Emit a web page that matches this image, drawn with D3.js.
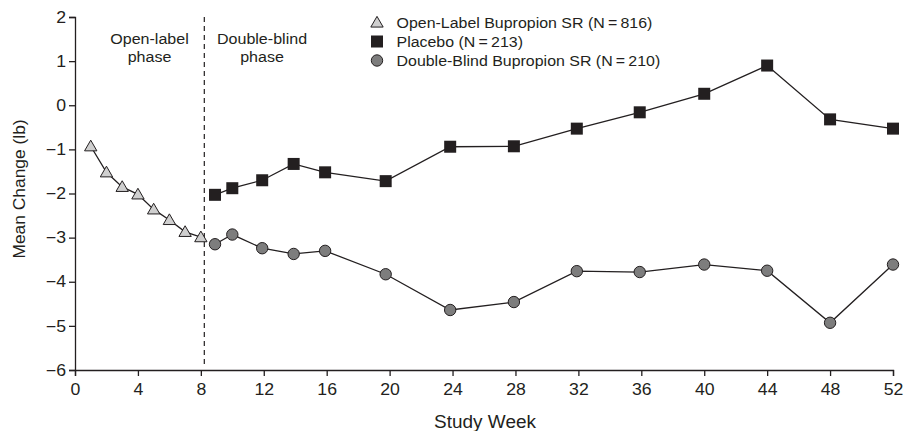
<!DOCTYPE html>
<html><head><meta charset="utf-8">
<script src="https://cdn.jsdelivr.net/npm/d3@7"></script>
<style>body{margin:0;background:#fff}svg{display:block}text{font-family:"Liberation Sans",Arial,sans-serif;fill:#231f20}</style>
</head><body><svg id="c" width="905" height="431"></svg>
<script>
const openWeeks = [1,2,3,4,5,6,7,8];
const openValues = [-0.93,-1.52,-1.85,-2.02,-2.36,-2.60,-2.87,-2.99];
const dbWeeks = [8.9,10,11.9,13.9,15.9,19.75,23.85,27.9,31.9,35.9,40,44,48,52];
const placeboValues = [-2.03,-1.88,-1.70,-1.33,-1.52,-1.72,-0.94,-0.93,-0.53,-0.16,0.26,0.90,-0.32,-0.53];
const bupValues = [-3.15,-2.93,-3.24,-3.37,-3.30,-3.83,-4.64,-4.46,-3.76,-3.78,-3.61,-3.75,-4.93,-3.61];
const xTicks = [0,4,8,12,16,20,24,28,32,36,40,44,48,52];
const yTicks = [2,1,0,-1,-2,-3,-4,-5,-6];
const phaseBoundary = 8.22;
const legendLabels = ["Open-Label Bupropion SR (N\u2009=\u2009816)","Placebo (N\u2009=\u2009213)","Double-Blind Bupropion SR (N\u2009=\u2009210)"];

const SX = 1.085; // horizontal stretch of the original typesetting
const svg = d3.select("#c");
const x = d3.scaleLinear().domain([0,52]).range([75,893]);
const y = d3.scaleLinear().domain([-6,2]).range([370,17]);
const ink = "#231f20";

function label(g, tx, ty, txt, size, anchor){
  return g.append("text").attr("transform",`translate(${tx},${ty}) scale(${SX},1)`)
    .attr("text-anchor",anchor||"start").attr("font-size",size).text(txt);
}

const gx = svg.append("g").attr("transform","translate(0,370)")
  .call(d3.axisBottom(x).tickValues(xTicks).tickSize(6).tickPadding(7).tickFormat(d3.format("d")));
const gy = svg.append("g").attr("transform","translate(75,0)")
  .call(d3.axisLeft(y).tickValues(yTicks).tickSize(6).tickPadding(3).tickFormat(d=>d<0?"\u2212"+Math.abs(d):d));
[gx,gy].forEach(g=>{
  g.selectAll("path").attr("stroke",ink).attr("stroke-width",1.3);
  g.selectAll("line").attr("stroke",ink).attr("stroke-width",1.3);
  g.selectAll("text").attr("font-size",16.3).attr("fill",ink).style("font-family","'Liberation Sans',Arial,sans-serif")
    .attr("transform",`scale(${SX},1)`);
});
gy.selectAll("text").attr("x",-9/SX);

// phase divider
svg.append("line").attr("x1",x(phaseBoundary)).attr("x2",x(phaseBoundary))
  .attr("y1",y(2)).attr("y2",366).attr("stroke",ink).attr("stroke-width",1.2).attr("stroke-dasharray","5,4");

// phase labels
[[149.5,"Open-label"],[262,"Double-blind"]].forEach(([cx,t])=>{
  label(svg,cx,44,t,14.8,"middle");
  label(svg,cx,62,"phase",14.8,"middle");
});

const line = d3.line().x(d=>x(d[0])).y(d=>y(d[1]));
const openData = openWeeks.map((w,i)=>[w,openValues[i]]);
const plData = dbWeeks.map((w,i)=>[w,placeboValues[i]]);
const buData = dbWeeks.map((w,i)=>[w,bupValues[i]]);
[openData,plData,buData].forEach(d=>{
  svg.append("path").datum(d).attr("d",line).attr("fill","none").attr("stroke",ink).attr("stroke-width",1.3);
});

const tri = d3.symbol().type(d3.symbolTriangle).size(66);
function drawTri(g,cx,cy){ g.append("path").attr("d",tri()).attr("transform",`translate(${cx},${cy+1})`)
  .attr("fill","#cfcfcf").attr("stroke",ink).attr("stroke-width",1); }
function drawSq(g,cx,cy){ g.append("rect").attr("x",cx-6).attr("y",cy-6).attr("width",12).attr("height",12)
  .attr("fill",ink); }
function drawCi(g,cx,cy){ g.append("circle").attr("cx",cx).attr("cy",cy).attr("r",5.7)
  .attr("fill","#7d7d7d").attr("stroke",ink).attr("stroke-width",1); }

const mk = svg.append("g");
openData.forEach(d=>drawTri(mk,x(d[0]),y(d[1])));
plData.forEach(d=>drawSq(mk,x(d[0]),y(d[1])));
buData.forEach(d=>drawCi(mk,x(d[0]),y(d[1])));

// legend
const lg = svg.append("g");
const drawers = [drawTri,drawSq,drawCi];
legendLabels.forEach((t,i)=>{
  const cy = 22.5 + i*19;
  drawers[i](lg,377,cy);
  label(lg,396.5,cy+5.5,t,14.7);
});

// axis titles
label(svg,485,428,"Study Week",17.5,"middle");
svg.append("text").attr("transform","translate(25,189) rotate(-90)").attr("text-anchor","middle").attr("font-size",17.4).text("Mean Change (lb)");
</script></body></html>
